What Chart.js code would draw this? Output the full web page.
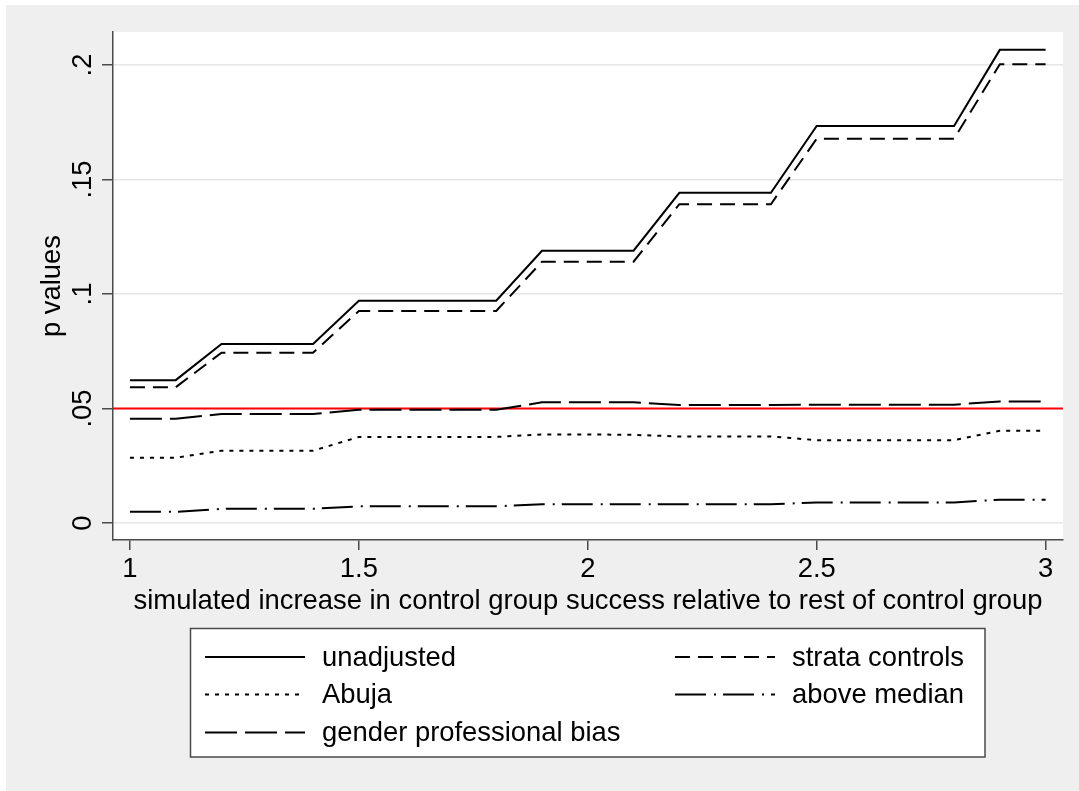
<!DOCTYPE html>
<html>
<head>
<meta charset="utf-8">
<title>p values</title>
<script src="https://cdn.jsdelivr.net/npm/chart.js@4.4.1/dist/chart.umd.min.js"></script>
<style>
    html, body { margin: 0; padding: 0; background: #ffffff; }
    #pvalChart { display: block; }
</style>
</head>
<body>
<canvas id="pvalChart" width="1079" height="791"></canvas>
<script>
// simulated increase (x) and p values of each specification
const increase = [1.0, 1.1, 1.2, 1.3, 1.4, 1.5, 1.6, 1.7, 1.8, 1.9, 2.0,
    2.1, 2.2, 2.3, 2.4, 2.5, 2.6, 2.7, 2.8, 2.9, 3.0];
const unadjusted = [0.0624, 0.0624, 0.0782, 0.0782, 0.0782, 0.0971, 0.0971, 0.0971, 0.0971,
    0.1189, 0.1189, 0.1189, 0.1442, 0.1442, 0.1442, 0.1734, 0.1734, 0.1734, 0.1734, 0.2066, 0.2066];
const strataControls = [0.0593, 0.0593, 0.0744, 0.0744, 0.0744, 0.0926, 0.0926, 0.0926, 0.0926,
    0.1141, 0.1141, 0.1141, 0.1392, 0.1392, 0.1392, 0.1678, 0.1678, 0.1678, 0.1678, 0.2003, 0.2003];
const abuja = [0.0285, 0.0285, 0.0316, 0.0316, 0.0316, 0.0376, 0.0376, 0.0376, 0.0376,
    0.0387, 0.0387, 0.0385, 0.0378, 0.0378, 0.0378, 0.0362, 0.0362, 0.0362, 0.0362, 0.0403, 0.0403];
const aboveMedian = [0.0049, 0.0049, 0.0062, 0.0062, 0.0062, 0.0073, 0.0073, 0.0073, 0.0073,
    0.0082, 0.0082, 0.0082, 0.0082, 0.0082, 0.0082, 0.0090, 0.0090, 0.0090, 0.0090, 0.0102, 0.0102];
const genderBias = [0.0455, 0.0455, 0.0476, 0.0476, 0.0476, 0.0495, 0.0495, 0.0495, 0.0495,
    0.0527, 0.0527, 0.0527, 0.0515, 0.0515, 0.0515, 0.0517, 0.0517, 0.0517, 0.0517, 0.0531, 0.0531];

const significanceLevel = 0.05;
const xTickValues = [1, 1.5, 2, 2.5, 3];
const yTickValues = [0, 0.05, 0.1, 0.15, 0.2];

document.addEventListener('DOMContentLoaded', function() {
    const ctx = document.getElementById('pvalChart').getContext('2d');
    const FONT = '"Liberation Sans", Arial, Helvetica, sans-serif';
    const AXIS_GREY = '#4a4a4a';

    const toPoints = (values) => increase.map((x, i) => ({ x: x, y: values[i] }));

    // stata style labels: ".05" instead of "0.05"
    const yLabel = (v) => (v === 0 ? '0' : String(+v.toFixed(2)).replace(/^0\./, '.'));

    const series = [
        { label: 'unadjusted', data: unadjusted, dash: [] },
        { label: 'strata controls', data: strataControls, dash: [15, 8] },
        { label: 'Abuja', data: abuja, dash: [4, 6] },
        { label: 'above median', data: aboveMedian, dash: [31, 8, 2, 7] },
        { label: 'gender professional bias', data: genderBias, dash: [32, 8] }
    ];

    // grey outer region and white plot region
    const backgroundPlugin = {
        id: 'stataBackground',
        beforeDraw: (chart) => {
            const { ctx, chartArea } = chart;
            ctx.save();
            ctx.fillStyle = '#ffffff';
            ctx.fillRect(0, 0, chart.width, chart.height);
            ctx.fillStyle = '#efefef';
            ctx.fillRect(6, 5, chart.width - 6, chart.height - 5);
            ctx.fillStyle = '#ffffff';
            ctx.fillRect(chartArea.left, chartArea.top,
                chartArea.right - chartArea.left, chartArea.bottom - chartArea.top);
            ctx.restore();
        }
    };

    // horizontal reference line at the significance level
    const refLinePlugin = {
        id: 'refLine',
        beforeDatasetsDraw: (chart) => {
            const { ctx, chartArea, scales } = chart;
            const y = scales.y.getPixelForValue(significanceLevel);
            ctx.save();
            ctx.strokeStyle = '#ff0000';
            ctx.lineWidth = 2;
            ctx.beginPath();
            ctx.moveTo(chartArea.left, y);
            ctx.lineTo(chartArea.right, y);
            ctx.stroke();
            ctx.restore();
        }
    };

    // boxed two column legend under the x axis title
    const boxLegendPlugin = {
        id: 'boxLegend',
        afterDraw: (chart) => {
            const { ctx } = chart;
            const box = { left: 190.5, top: 628.5, right: 985, bottom: 757 };
            const colX = [205, 675];
            const rowY = [657, 694.5, 732.5];
            const sampleLen = 100;

            ctx.save();
            ctx.fillStyle = '#ffffff';
            ctx.fillRect(box.left, box.top, box.right - box.left, box.bottom - box.top);
            ctx.strokeStyle = AXIS_GREY;
            ctx.lineWidth = 1.5;
            ctx.strokeRect(box.left, box.top, box.right - box.left, box.bottom - box.top);

            chart.data.datasets.forEach((ds, i) => {
                const x = colX[i % 2];
                const y = rowY[Math.floor(i / 2)];
                ctx.strokeStyle = ds.borderColor;
                ctx.lineWidth = ds.borderWidth;
                ctx.setLineDash(ds.borderDash || []);
                ctx.beginPath();
                ctx.moveTo(x, y);
                ctx.lineTo(x + sampleLen, y);
                ctx.stroke();

                ctx.setLineDash([]);
                ctx.fillStyle = '#000000';
                ctx.font = '27.4px ' + FONT;
                ctx.textAlign = 'left';
                ctx.textBaseline = 'middle';
                ctx.fillText(ds.label, x + sampleLen + 17, y + 1);
            });
            ctx.restore();
        }
    };

    new Chart(ctx, {
        type: 'line',
        plugins: [backgroundPlugin, refLinePlugin, boxLegendPlugin],
        data: {
            datasets: series.map(s => ({
                label: s.label,
                data: toPoints(s.data),
                borderColor: '#000000',
                borderWidth: 2,
                borderDash: s.dash,
                borderCapStyle: 'butt',
                borderJoinStyle: 'miter',
                pointRadius: 0,
                tension: 0,
                fill: false
            }))
        },
        options: {
            responsive: false,
            animation: false,
            layout: {
                padding: { top: 32, right: 16, bottom: 171, left: 20 }
            },
            plugins: {
                legend: { display: false },
                tooltip: { enabled: false }
            },
            scales: {
                x: {
                    type: 'linear',
                    min: 0.963,
                    max: 3.038,
                    afterBuildTicks: (scale) => {
                        scale.ticks = xTickValues.map(v => ({ value: v }));
                    },
                    afterFit: (scale) => { scale.height = 80; },
                    border: { display: true, color: AXIS_GREY, width: 1.5 },
                    grid: {
                        color: 'rgba(0,0,0,0)',
                        tickColor: AXIS_GREY,
                        tickLength: 10,
                        lineWidth: 1.5
                    },
                    ticks: {
                        color: '#000000',
                        padding: 3,
                        maxRotation: 0,
                        font: { family: FONT, size: 27.4 },
                        callback: (v) => String(v)
                    },
                    title: {
                        display: true,
                        text: 'simulated increase in control group success relative to rest of control group',
                        color: '#000000',
                        padding: { top: 0, bottom: 2 },
                        font: { family: FONT, size: 27.4 }
                    }
                },
                y: {
                    type: 'linear',
                    min: -0.0074,
                    max: 0.2144,
                    afterBuildTicks: (scale) => {
                        scale.ticks = yTickValues.map(v => ({ value: v }));
                    },
                    afterFit: (scale) => { scale.width = 93; },
                    border: { display: true, color: AXIS_GREY, width: 1.5 },
                    grid: {
                        color: '#e6e6e6',
                        lineWidth: 1.5,
                        tickColor: AXIS_GREY,
                        tickLength: 11
                    },
                    ticks: {
                        color: '#000000',
                        minRotation: 90,
                        maxRotation: 90,
                        crossAlign: 'center',
                        padding: 0,
                        font: { family: FONT, size: 27.4 },
                        callback: (v) => yLabel(v)
                    },
                    title: {
                        display: true,
                        text: 'p values',
                        color: '#000000',
                        padding: { top: 16, bottom: 0 },
                        font: { family: FONT, size: 27.4 }
                    }
                }
            }
        }
    });
});
</script>
</body>
</html>
